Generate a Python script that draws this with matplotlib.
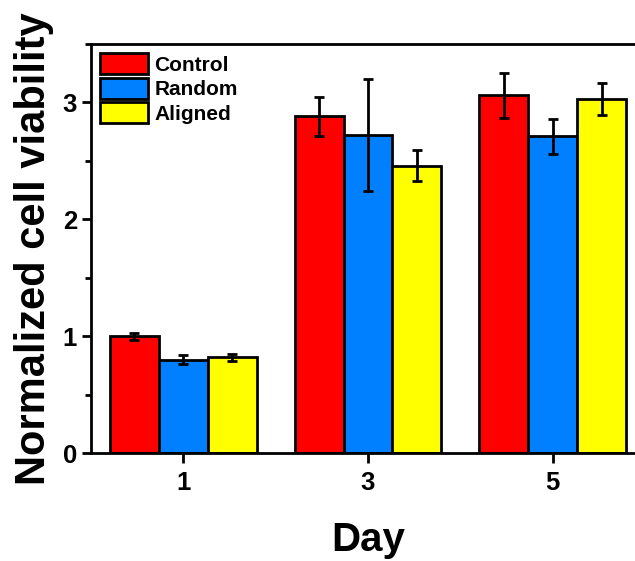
import numpy as np
import matplotlib.pyplot as plt
from matplotlib.ticker import MultipleLocator

plt.rcParams['font.family'] = ['Liberation Sans', 'DejaVu Sans']
plt.rcParams['font.weight'] = 'bold'

# data
days = ["1", "3", "5"]
groups = ["Control", "Random", "Aligned"]
control = [1.00, 2.88, 3.06]
control_err = [0.03, 0.17, 0.19]
random_ = [0.80, 2.72, 2.71]
random_err = [0.04, 0.48, 0.15]
aligned = [0.82, 2.46, 3.03]
aligned_err = [0.03, 0.13, 0.14]
colors = ["#FF0000", "#0080FF", "#FFFF00"]

fig = plt.figure(figsize=(6.35, 5.61), dpi=100)
ax = fig.add_axes([0.1433, 0.1925, 0.8724, 0.7291])

x = np.arange(len(days))
w = 0.265
series = [(control, control_err), (random_, random_err), (aligned, aligned_err)]
for i, (vals, errs) in enumerate(series):
    ax.bar(x + (i - 1) * w, vals, w, yerr=errs, color=colors[i],
           edgecolor="black", linewidth=2, label=groups[i],
           error_kw=dict(ecolor="black", elinewidth=2, capsize=3.6, capthick=2))

ax.set_xlim(-0.5, 2.5)
ax.set_ylim(0, 3.5)
ax.set_xticks(x)
ax.set_xticklabels(days)
ax.set_yticks([0, 1, 2, 3])
ax.yaxis.set_minor_locator(MultipleLocator(0.5))
for s in ax.spines.values():
    s.set_linewidth(2)
ax.tick_params(which="major", width=2, length=6.5, labelsize=18.5)
ax.tick_params(axis="x", which="major", length=7, pad=6)
ax.tick_params(which="minor", width=2, length=4)
ax.set_ylabel("Normalized cell viability", fontsize=30, fontweight="bold", labelpad=6)
ax.set_xlabel("Day", fontsize=29, fontweight="bold", labelpad=19)

leg = ax.legend(loc="upper left", frameon=False, fontsize=15,
                handlelength=2.3, handleheight=1.15, labelspacing=0.15,
                handletextpad=0.3, borderpad=0, borderaxespad=0.45)
for p in leg.get_patches():
    p.set_linewidth(2)

plt.savefig("out.png", dpi=100)
plt.close()
